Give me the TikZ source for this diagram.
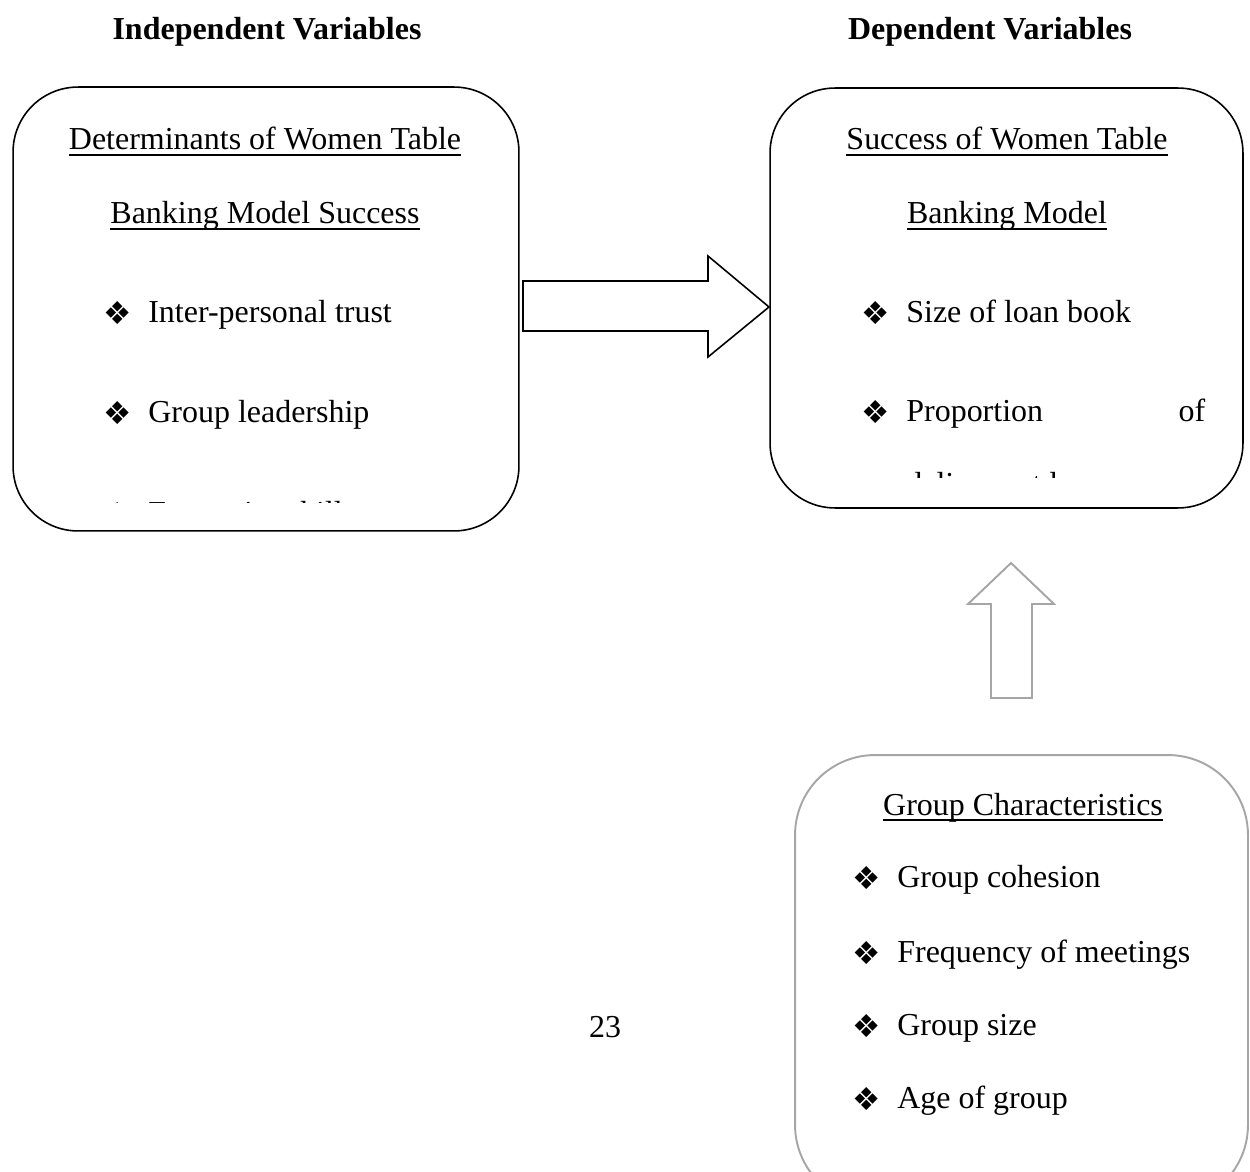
\documentclass[tikz,border=0pt]{standalone}
\usepackage{fontspec}
\setmainfont{Liberation Serif}
\newfontfamily\dingfont{DejaVu Sans}
\usepackage{tikz}
\definecolor{framegray}{HTML}{A6A6A6}
\newcommand{\bul}{\makebox[0.9cm][l]{\raisebox{-1.2pt}{\fontsize{18}{18}\dingfont ❖}}}
\newcommand{\ulin}[1]{\leavevmode\setbox0\hbox{#1}\rlap{\rule[-3.2pt]{\wd0}{0.9pt}}\box0}

\begin{document}
\begin{tikzpicture}[x=0.02cm,y=-0.02cm,
    every node/.style={font=\fontsize{18.2}{22}\selectfont,inner sep=0pt},
    head/.style={anchor=base,font=\fontsize{18.2}{22}\selectfont\bfseries},
    title/.style={anchor=base},
    item/.style={anchor=base west},
    bbox/.style={draw,line width=0.9pt,rounded corners=1.3cm},
    gbox/.style={draw=framegray,line width=1.1pt,rounded corners=1.6cm}]
    \clip (0,0) rectangle (1250,1172);

    \node[head] (indep) at (267,40) {Independent Variables};
    \node[head] (dep) at (990,40) {Dependent Variables};

    % boxes
    \node[bbox,minimum width=10.12cm,minimum height=8.88cm] (det) at (266,309) {};
    \node[bbox,minimum width=9.46cm,minimum height=8.4cm] (succ) at (1006.5,298) {};
    \node[gbox,minimum width=9.06cm,minimum height=9cm] (grp) at (1021.5,980) {};

    % left box
    \node[title] (dett1) at (265,150) {\ulin{Determinants of Women Table}};
    \node[title] (dett2) at (265,224) {\ulin{Banking Model Success}};
    \node[item] (det1) at (103,322) {\bul Inter-personal trust};
    \node[item] (det2) at (103,422) {\bul Group leadership};
    \begin{scope}
        \clip (13,88) rectangle (519,502);
        \node[item] (det3) at (103,523) {\bul Enterprise skills};
    \end{scope}

    % right box
    \node[title] (succt1) at (1007,150) {\ulin{Success of Women Table}};
    \node[title] (succt2) at (1007,224) {\ulin{Banking Model}};
    \node[item] (succ1) at (861,322) {\bul Size of loan book};
    \node[item] (succ2) at (861,421) {\makebox[6.88cm][s]{\bul Proportion\hfill of}};
    \begin{scope}
        \clip (770,88) rectangle (1243,477);
        \node[item] (succ3) at (906,494) {delinquent loans};
    \end{scope}

    % bottom box
    \node[title] (grpt) at (1023,815) {\ulin{Group Characteristics}};
    \node[item] (grp1) at (852,887) {\bul Group cohesion};
    \node[item] (grp2) at (852,962) {\bul Frequency of meetings};
    \node[item] (grp3) at (852,1035) {\bul Group size};
    \node[item] (grp4) at (852,1108) {\bul Age of group};

    \node[title] (page) at (605,1037) {23};

    % block arrows
    \draw[line width=0.9pt] (523,281) -- (708,281) -- (708,256) -- (769,307)
        -- (708,357) -- (708,331) -- (523,331) -- cycle;
    \draw[framegray,line width=1.1pt] (991,698) -- (991,604) -- (968,604)
        -- (1011,563) -- (1054,604) -- (1032,604) -- (1032,698) -- cycle;
\end{tikzpicture}
\end{document}
